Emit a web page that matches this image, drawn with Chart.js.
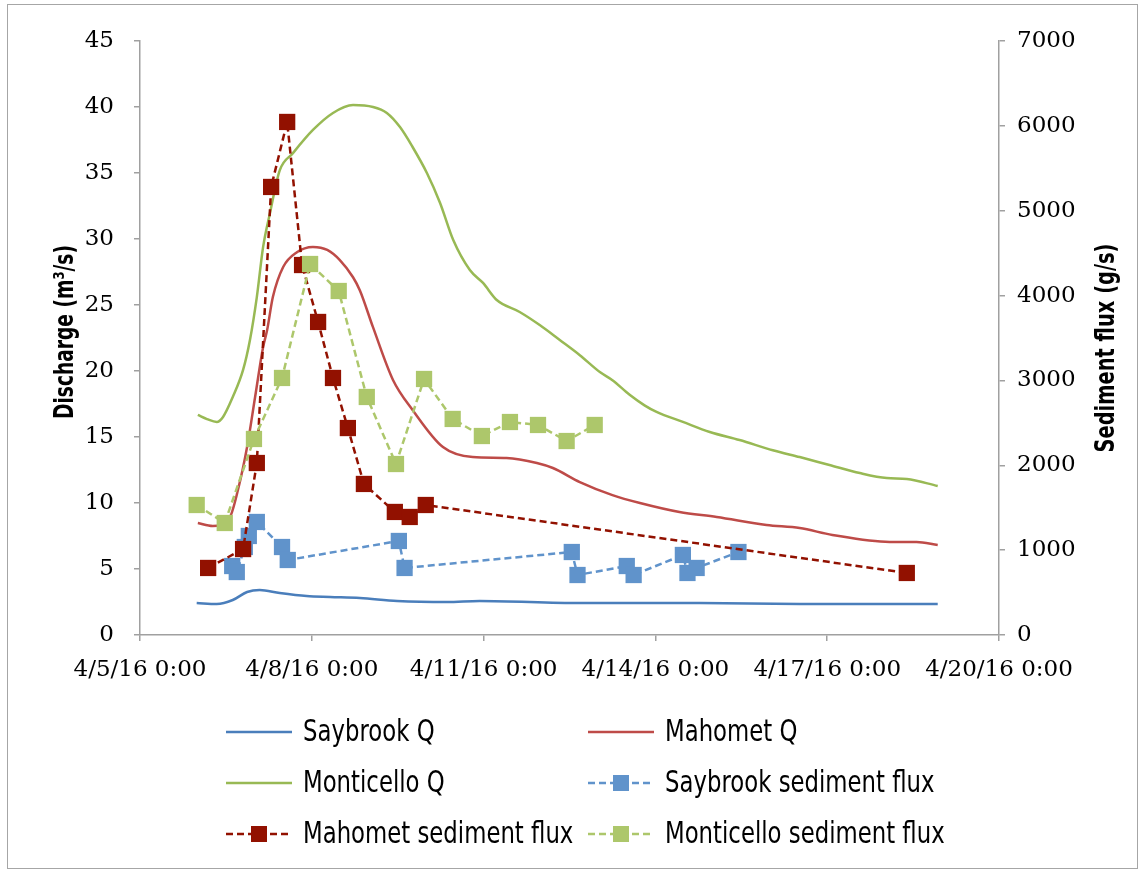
<!DOCTYPE html>
<html>
<head>
<meta charset="utf-8">
<script src="https://cdn.jsdelivr.net/npm/chart.js@4.4.1/dist/chart.umd.min.js"></script>
<style>
  html, body { margin: 0; padding: 0; background: #fff; }
  #wrap { width: 1144px; height: 872px; }
</style>
</head>
<body>
<div id="wrap"><canvas id="fluxChart" width="1144" height="872"></canvas></div>
<script>
// time is the (fractional) day of April 2016, so 6.5 means 4/6/16 12:00
const xTickLabels = ['4/5/16 0:00', '4/8/16 0:00', '4/11/16 0:00', '4/14/16 0:00', '4/17/16 0:00', '4/20/16 0:00'];

const saybrookQDays = [5.99, 6.34, 6.62, 6.87, 7.09, 7.44, 7.91, 8.32, 8.84, 9.49, 10.36, 10.93, 12.68, 14.77, 16.52, 18.93];
const saybrookQ = [2.42, 2.35, 2.65, 3.26, 3.41, 3.18, 2.95, 2.88, 2.80, 2.58, 2.50, 2.58, 2.42, 2.42, 2.35, 2.35];

const mahometQDays = [6.01, 6.27, 6.57, 6.71, 6.87, 7.01, 7.15, 7.22, 7.32, 7.50, 7.74, 8.02, 8.27, 8.49, 8.72, 8.84,
  9.07, 9.42, 9.76, 10.29, 10.81, 11.40, 11.93, 12.21, 12.68, 13.25, 13.73, 14.42, 15.07, 15.94, 16.52, 17.09, 18.09, 18.56, 18.93];
const mahometQ = [8.48, 8.26, 8.94, 10.98, 14.24, 18.03, 21.82, 23.1, 25.6, 27.88, 29.0, 29.4, 29.17, 28.4, 27.1, 26.1,
  23.3, 19.3, 17.05, 14.24, 13.48, 13.41, 13.03, 12.65, 11.59, 10.6, 10.0, 9.32, 8.94, 8.33, 8.1, 7.58, 7.05, 7.05, 6.82];

const monticelloQDays = [6.01, 6.17, 6.34, 6.45, 6.62, 6.80, 6.92, 7.04, 7.15, 7.27, 7.44, 7.67, 8.02, 8.37, 8.72, 9.07,
  9.31, 9.54, 9.76, 10.01, 10.24, 10.47, 10.76, 10.99, 11.23, 11.63, 11.98, 12.33, 12.68, 13.03, 13.25, 13.55, 13.81,
  14.02, 14.48, 14.95, 15.47, 16.05, 16.52, 17.04, 17.57, 18.04, 18.39, 18.93];
const monticelloQ = [16.67, 16.36, 16.14, 16.52, 18.03, 20.08, 22.35, 25.6, 29.4, 31.97, 35.2, 36.5, 38.26, 39.55, 40.15, 40.0,
  39.55, 38.48, 36.97, 35.0, 32.73, 29.92, 27.65, 26.67, 25.38, 24.47, 23.48, 22.35, 21.2, 19.92, 19.3, 18.2, 17.4,
  16.9, 16.14, 15.38, 14.77, 14.0, 13.48, 12.88, 12.27, 11.89, 11.82, 11.29];

const saybrookFluxDays = [6.61, 6.69, 6.83, 6.90, 7.04, 7.48, 7.58, 9.52, 9.62, 12.54, 12.64, 13.50, 13.62, 14.48, 14.56, 14.72, 15.45];
const saybrookFlux = [813, 742, 1037, 1167, 1332, 1037, 884, 1108, 790, 978, 707, 813, 707, 943, 731, 790, 978];

const mahometFluxDays = [6.19, 6.80, 7.04, 7.29, 7.57, 7.83, 8.11, 8.37, 8.63, 8.91, 9.45, 9.71, 9.99, 18.39];
const mahometFlux = [790, 1013, 2027, 5280, 6046, 4360, 3689, 3029, 2439, 1780, 1450, 1391, 1532, 731];

const monticelloFluxDays = [5.99, 6.48, 6.99, 7.48, 7.97, 8.47, 8.96, 9.47, 9.96, 10.46, 10.97, 11.46, 11.95, 12.45, 12.94];
const monticelloFlux = [1532, 1320, 2310, 3029, 4372, 4054, 2805, 2015, 3017, 2546, 2345, 2510, 2475, 2286, 2475];

const seriesNames = ['Saybrook Q', 'Mahomet Q', 'Monticello Q',
  'Saybrook sediment flux', 'Mahomet sediment flux', 'Monticello sediment flux'];

const firstDay = 5;
const lastDay = 20;

function toPoints(days, values) {
  return days.map((d, i) => ({ x: d, y: values[i] }));
}

function qSeries(label, days, values, color, order) {
  return {
    label: label,
    data: toPoints(days, values),
    yAxisID: 'y',
    borderColor: color,
    borderWidth: 2.5,
    pointRadius: 0,
    cubicInterpolationMode: 'monotone',
    order: order
  };
}

function fluxSeries(label, days, values, color, order) {
  return {
    label: label,
    data: toPoints(days, values),
    yAxisID: 'y1',
    borderColor: color,
    backgroundColor: color,
    borderWidth: 2.5,
    borderDash: [7, 4],
    pointStyle: 'rect',
    pointRadius: 11.5,
    pointBorderWidth: 0,
    pointBackgroundColor: color,
    order: order
  };
}

const tickFont = { family: 'DejaVu Serif', size: 23 };
const axisColor = '#a0a0a0';

// draws text squeezed sideways, the reference uses a condensed face
function narrowText(ctx, text, x, y, squeeze) {
  ctx.save();
  ctx.translate(x, y);
  ctx.scale(squeeze, 1);
  ctx.fillText(text, 0, 0);
  ctx.restore();
}

// frame, axis titles and the two-column legend
const chartDecor = {
  id: 'chartDecor',
  beforeDraw(chart) {
    const ctx = chart.ctx;
    ctx.save();
    ctx.fillStyle = '#fff';
    ctx.fillRect(0, 0, chart.width, chart.height);
    ctx.strokeStyle = '#a6a6a6';
    ctx.lineWidth = 1;
    ctx.strokeRect(7.5, 4.5, 1130, 864);
    ctx.restore();
  },
  afterDraw(chart) {
    const ctx = chart.ctx;
    const area = chart.chartArea;
    const midY = (area.top + area.bottom) / 2;
    ctx.save();
    ctx.fillStyle = '#000';
    ctx.font = 'bold 27px "DejaVu Sans", sans-serif';
    ctx.textAlign = 'center';
    ctx.textBaseline = 'middle';
    ctx.save();
    ctx.translate(66, midY - 6);
    ctx.rotate(-Math.PI / 2);
    narrowText(ctx, 'Discharge (m³/s)', 0, 0, 0.69);
    ctx.restore();
    ctx.save();
    ctx.translate(1107, midY + 10);
    ctx.rotate(-Math.PI / 2);
    narrowText(ctx, 'Sediment flux (g/s)', 0, 0, 0.72);
    ctx.restore();

    const cols = [226, 588];
    const rows = [732, 783, 834];
    ctx.font = '30px "DejaVu Sans", sans-serif';
    ctx.textAlign = 'left';
    chart.data.datasets.forEach((ds, i) => {
      const x = cols[i % 2];
      const y = rows[Math.floor(i / 2)];
      ctx.strokeStyle = ds.borderColor;
      ctx.lineWidth = 2.5;
      ctx.setLineDash(ds.borderDash || []);
      ctx.beginPath();
      ctx.moveTo(x, y);
      ctx.lineTo(x + 66, y);
      ctx.stroke();
      ctx.setLineDash([]);
      if (ds.pointRadius > 0) {
        ctx.fillStyle = ds.pointBackgroundColor;
        ctx.fillRect(x + 25, y - 8, 16, 16);
      }
      ctx.fillStyle = '#000';
      narrowText(ctx, ds.label, x + 77, y + 1, 0.76);
    });
    ctx.restore();
  }
};

new Chart(document.getElementById('fluxChart'), {
  type: 'line',
  data: {
    datasets: [
      qSeries(seriesNames[0], saybrookQDays, saybrookQ, '#4A7EBB', 5),
      qSeries(seriesNames[1], mahometQDays, mahometQ, '#BE4B48', 4),
      qSeries(seriesNames[2], monticelloQDays, monticelloQ, '#98B954', 3),
      fluxSeries(seriesNames[3], saybrookFluxDays, saybrookFlux, '#6093CB', 2),
      fluxSeries(seriesNames[4], mahometFluxDays, mahometFlux, '#921100', 1),
      fluxSeries(seriesNames[5], monticelloFluxDays, monticelloFlux, '#ADC76B', 0)
    ]
  },
  options: {
    responsive: false,
    animation: false,
    devicePixelRatio: 1,
    layout: { padding: { top: 41, left: 0, right: 0, bottom: 0 } },
    plugins: {
      legend: { display: false },
      tooltip: { enabled: false }
    },
    scales: {
      x: {
        type: 'linear',
        position: 'bottom',
        min: firstDay,
        max: lastDay,
        ticks: {
          stepSize: 3,
          autoSkip: false,
          maxRotation: 0,
          padding: 15,
          color: '#000',
          font: tickFont,
          callback: (v) => xTickLabels[Math.round((v - firstDay) / 3)]
        },
        grid: { drawOnChartArea: false, tickLength: 6, color: axisColor, lineWidth: 1.5 },
        border: { color: axisColor, width: 1.5 },
        afterFit: (s) => { s.height = 237; }
      },
      y: {
        position: 'left',
        min: 0,
        max: 45,
        ticks: { stepSize: 5, padding: 20, color: '#000', font: tickFont },
        grid: { drawOnChartArea: false, tickLength: 6, color: axisColor, lineWidth: 1.5 },
        border: { color: axisColor, width: 1.5 },
        afterFit: (s) => { s.width = 140; }
      },
      y1: {
        position: 'right',
        min: 0,
        max: 7000,
        ticks: { stepSize: 1000, padding: 12, color: '#000', font: tickFont, callback: (v) => String(v) },
        grid: { drawOnChartArea: false, tickLength: 6, color: axisColor, lineWidth: 1.5 },
        border: { color: axisColor, width: 1.5 },
        afterFit: (s) => { s.width = 145; }
      }
    }
  },
  plugins: [chartDecor]
});
</script>
</body>
</html>
